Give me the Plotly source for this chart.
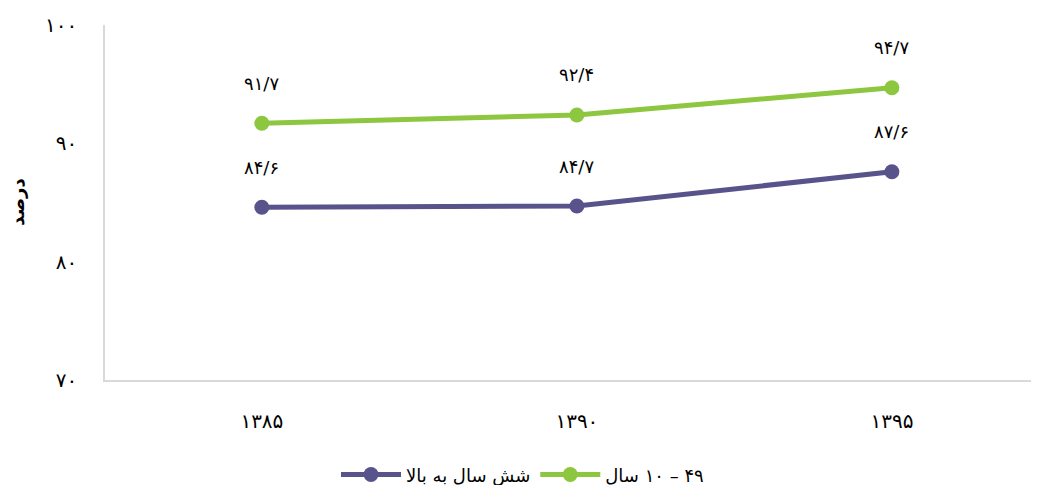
import plotly.graph_objects as go

years = ["۱۳۸۵", "۱۳۹۰", "۱۳۹۵"]
six_plus = [84.6, 84.7, 87.6]
six_plus_labels = ["۸۴/۶", "۸۴/۷", "۸۷/۶"]
ten_49 = [91.7, 92.4, 94.7]
ten_49_labels = ["۹۱/۷", "۹۲/۴", "۹۴/۷"]
y_ticks = [70, 80, 90, 100]
y_tick_labels = ["۷۰", "۸۰", "۹۰", "۱۰۰"]
name_six = "شش سال به بالا"
name_ten = "سال\u200e ۱۰\u200e – \u200e۴۹"
y_title = "درصد"

purple = "#58538B"
green = "#8DC63F"
FONT = "DejaVu Sans"

x_idx = list(range(len(years)))

fig = go.Figure()
fig.add_trace(go.Scatter(x=x_idx, y=six_plus, mode="lines+markers", name=name_six,
                         line=dict(color=purple, width=5), marker=dict(size=15, color=purple)))
fig.add_trace(go.Scatter(x=x_idx, y=ten_49, mode="lines+markers", name=name_ten,
                         line=dict(color=green, width=5), marker=dict(size=15, color=green)))

for xs, ys, labs in [(x_idx, six_plus, six_plus_labels), (x_idx, ten_49, ten_49_labels)]:
    for xv, yv, lab in zip(xs, ys, labs):
        fig.add_annotation(x=xv, y=yv, text=lab, showarrow=False, yshift=40,
                           font=dict(family=FONT, size=18, color="#000"))

fig.add_annotation(xref="paper", yref="paper", x=-0.094, y=0.5, text="<b>" + y_title + "</b>",
                   textangle=-90, showarrow=False, xanchor="center", yanchor="middle",
                   font=dict(family=FONT, size=18, color="#000"))

fig.update_layout(
    width=1031, height=477,
    margin=dict(l=97, r=0, t=17, b=105, autoexpand=False),
    paper_bgcolor="white", plot_bgcolor="white",
    font=dict(family=FONT, color="#000"),
    showlegend=True,
    legend=dict(orientation="h", x=0.447, xanchor="center", y=-0.215, yanchor="top",
                font=dict(family=FONT, size=18), itemwidth=60),
    xaxis=dict(range=[-0.498, 2.467], tickvals=x_idx, ticktext=years, automargin=False,
               showgrid=False, zeroline=False, showline=True, linecolor="#d9d9d9",
               linewidth=1.5, ticks="", ticklabelstandoff=22,
               tickfont=dict(family=FONT, size=20)),
    yaxis=dict(range=[70, 100], tickvals=y_ticks, ticktext=y_tick_labels, automargin=False,
               showgrid=False, zeroline=False, showline=True, linecolor="#d9d9d9",
               linewidth=1.5, ticks="", ticklabelstandoff=22,
               tickfont=dict(family=FONT, size=20)),
)

fig.write_html("out.html")
